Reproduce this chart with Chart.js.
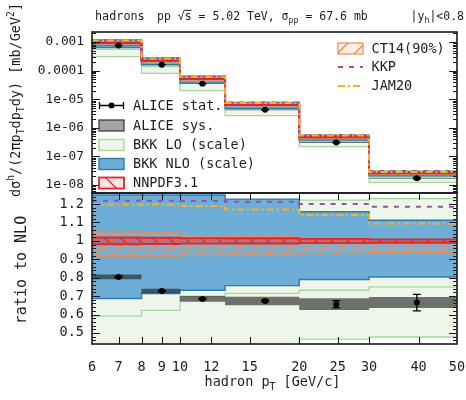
<!DOCTYPE html>
<html>
<head>
<meta charset="utf-8">
<script src="https://cdn.jsdelivr.net/npm/chart.js@4.4.1/dist/chart.umd.min.js"></script>
<style>
  html, body { margin: 0; padding: 0; background: #fff; }
  #wrap { position: relative; width: 466px; height: 400px; overflow: hidden; background: #fff; }
  canvas { position: absolute; left: 0; }
  #cRatio { top: 181px; }
  #cSpec { top: 0; }
</style>
</head>
<body>
<div id="wrap">
  <canvas id="cRatio" width="466" height="219"></canvas>
  <canvas id="cSpec" width="466" height="205"></canvas>
</div>
<script>
// ---- binning and axis ticks ----
const binEdges = [6, 8, 10, 13, 20, 30, 50];
const pointPt = [7, 9, 11.4, 16.4, 24.8, 39.6];
const xTicks = [6, 7, 8, 9, 10, 12, 15, 20, 25, 30, 40, 50];
const xTickLabels = ['6', '7', '8', '9', '10', '12', '15', '20', '25', '30', '40', '50'];
const specTicks = [1e-8, 1e-7, 1e-6, 1e-5, 1e-4, 1e-3];
const specTickLabels = ['1e-08', '1e-07', '1e-06', '1e-05', '0.0001', '0.001'];
const ratioTicks = [0.5, 0.6, 0.7, 0.8, 0.9, 1.0, 1.1, 1.2];
const ratioTickLabels = ['0.5', '0.6', '0.7', '0.8', '0.9', '1', '1.1', '1.2'];

// ---- BKK NLO central cross section per bin [mb/GeV^2] ----
const nloCentral = [9.4e-4, 2.22e-4, 5.1e-5, 6.3e-6, 4.7e-7, 2.6e-8];

// ---- everything below is a ratio to the NLO central value, per bin ----
const aliceRatio = [0.804, 0.728, 0.685, 0.674, 0.656, 0.665];
const aliceStat  = [0.004, 0.003, 0.004, 0.005, 0.020, 0.045];
const aliceSys   = [0.013, 0.012, 0.016, 0.023, 0.032, 0.030];
const loLow   = [0.33, 0.36, 0.39, 0.42, 0.466, 0.478];
const loCent  = [0.591, 0.623, 0.700, 0.715, 0.732, 0.750];
const loHigh  = [1.24, 1.23, 1.22, 1.20, 1.221, 1.230];
const nloLow  = [0.687, 0.714, 0.732, 0.757, 0.790, 0.804];
const nloHigh = [1.249, 1.249, 1.249, 1.227, 1.158, 1.112];
const nnLow   = [0.982, 0.983, 0.985, 0.986, 0.988, 0.990];
const nnHigh  = [1.018, 1.017, 1.015, 1.014, 1.011, 1.008];
const ctLow   = [0.917, 0.918, 0.921, 0.922, 0.931, 0.937];
const ctHigh  = [1.043, 1.043, 1.027, 1.022, 1.005, 0.990];
const kkp     = [1.218, 1.218, 1.217, 1.212, 1.200, 1.185];
const jam20   = [1.198, 1.198, 1.190, 1.170, 1.140, 1.095];

const FONT = '"DejaVu Sans Mono", monospace';
const INK = '#1e1e1e';
const C = {
  loFill: '#edf6e9', loLine: '#a6d89e',
  nloFill: '#6eadd5', nloLine: '#2b7bb8',
  nn: '#e2262b', ct: '#f08a4e', kkp: '#9a4fad', jam: '#f2b326',
  sys: 'rgba(30,30,30,0.62)', sysKey: '#a4a4a4'
};

function hatchPattern(lineColor, bg, size, lw, dir) {
  const c = document.createElement('canvas');
  c.width = size; c.height = size;
  const g = c.getContext('2d');
  if (bg) { g.fillStyle = bg; g.fillRect(0, 0, size, size); }
  g.strokeStyle = lineColor; g.lineWidth = lw; g.beginPath();
  if (dir === '/') {
    g.moveTo(0, size); g.lineTo(size, 0);
    g.moveTo(-1, 1); g.lineTo(1, -1);
    g.moveTo(size - 1, size + 1); g.lineTo(size + 1, size - 1);
  } else {
    g.moveTo(0, 0); g.lineTo(size, size);
    g.moveTo(-1, size - 1); g.lineTo(1, size + 1);
    g.moveTo(size - 1, -1); g.lineTo(size + 1, 1);
  }
  g.stroke();
  return g.createPattern(c, 'repeat');
}
const ctPattern = hatchPattern(C.ct, 'rgba(250,170,120,0.2)', 17, 1.4, '/');
const nnPattern = hatchPattern(C.nn, 'rgba(226,38,43,0.45)', 16, 1.3, '\\');
const nnKeyPattern = hatchPattern(C.nn, 'rgba(226,38,43,0.12)', 24, 1.3, '\\');

// histogram-style points: one value per bin, repeated at the last edge
function steps(vals) {
  return binEdges.map((x, i) => ({ x, y: vals[Math.min(i, vals.length - 1)] }));
}

function makeDatasets(toPanel) {
  const conv = arr => arr.map((r, i) => toPanel(r, i));
  const ds = [];
  const line = (vals, color, width, order, extra) => Object.assign({
    data: steps(conv(vals)), stepped: 'before', borderColor: color, borderWidth: width,
    pointRadius: 0, fill: false, order: order
  }, extra || {});
  const band = (lo, hi, color, width, bg, order, label) => {
    ds.push(line(hi, color, width, order + 0.5, { fill: ds.length + 1, backgroundColor: bg, label: label }));
    ds.push(line(lo, color, width, order));
  };
  ds.push({
    label: 'ALICE stat.',
    data: pointPt.map((x, i) => ({ x, y: toPanel(aliceRatio[i], i) })),
    showLine: false, pointRadius: 3, pointBackgroundColor: '#000', pointBorderWidth: 0, order: 0
  });
  band(aliceRatio.map((r, i) => r - aliceSys[i]), aliceRatio.map((r, i) => r + aliceSys[i]),
       'rgba(0,0,0,0)', 0, C.sys, 1, 'ALICE sys.');
  ds.push(line(jam20, C.jam, 2, 2, { label: 'JAM20', borderDash: [7, 3, 2, 3] }));
  ds.push(line(kkp, C.kkp, 2, 3, { label: 'KKP', borderDash: [5, 6] }));
  band(nnLow, nnHigh, C.nn, 1.9, nnPattern, 4, 'NNPDF3.1');
  band(ctLow, ctHigh, C.ct, 1.3, ctPattern, 5, 'CT14(90%)');
  band(nloLow, nloHigh, C.nloLine, 1.4, C.nloFill, 6, 'BKK NLO (scale)');
  ds.push(line(loCent, C.loLine, 1.3, 7));
  band(loLow, loHigh, C.loLine, 1.3, C.loFill, 8, 'BKK LO (scale)');
  return ds;
}

// ---- text helpers (sub/superscripts) ----
function richWidth(ctx, parts, fs) {
  let w = 0;
  for (const p of parts) {
    ctx.font = ((p.sub || p.sup) ? fs * 0.72 : fs) + 'px ' + FONT;
    w += ctx.measureText(p.t).width;
  }
  return w;
}
function drawRich(ctx, parts, x, y, fs, align) {
  const w = richWidth(ctx, parts, fs);
  let cx = align === 'center' ? x - w / 2 : align === 'right' ? x - w : x;
  ctx.textBaseline = 'alphabetic'; ctx.textAlign = 'left'; ctx.fillStyle = INK;
  for (const p of parts) {
    ctx.font = ((p.sub || p.sup) ? fs * 0.72 : fs) + 'px ' + FONT;
    const dy = p.sub ? fs * 0.28 : p.sup ? -fs * 0.42 : 0;
    ctx.fillText(p.t, cx, y + dy);
    const tw = ctx.measureText(p.t).width;
    if (p.over) {
      ctx.strokeStyle = INK; ctx.lineWidth = 1;
      ctx.beginPath(); ctx.moveTo(cx - 0.5, y - fs * 0.8); ctx.lineTo(cx + tw, y - fs * 0.8); ctx.stroke();
    }
    cx += tw;
  }
}
function drawRotated(ctx, parts, x, y, fs) {
  ctx.save(); ctx.translate(x, y); ctx.rotate(-Math.PI / 2);
  drawRich(ctx, parts, 0, fs * 0.36, fs, 'center');
  ctx.restore();
}

// ---- frame, ticks, error bars and annotations ----
const decor = {
  id: 'decor',
  afterDatasetsDraw(chart, args, opts) {
    const ctx = chart.ctx, xs = chart.scales.x, ys = chart.scales.y;
    ctx.save();
    ctx.strokeStyle = '#000'; ctx.lineWidth = 1.3;
    pointPt.forEach((pt, i) => {
      const x = xs.getPixelForValue(pt);
      const y1 = ys.getPixelForValue(opts.toPanel(aliceRatio[i] - aliceStat[i], i));
      const y2 = ys.getPixelForValue(opts.toPanel(aliceRatio[i] + aliceStat[i], i));
      ctx.beginPath();
      ctx.moveTo(x, y1); ctx.lineTo(x, y2);
      ctx.moveTo(x - 4, y1); ctx.lineTo(x + 4, y1);
      ctx.moveTo(x - 4, y2); ctx.lineTo(x + 4, y2);
      ctx.stroke();
    });
    ctx.restore();
  },
  afterDraw(chart, args, opts) {
    const ctx = chart.ctx, a = chart.chartArea, xs = chart.scales.x, ys = chart.scales.y;
    ctx.save();
    // y ticks, inside on both sides
    ctx.strokeStyle = '#1a1a1a'; ctx.lineWidth = 1;
    ctx.beginPath();
    const yTick = (v, len) => {
      const y = Math.round(ys.getPixelForValue(v)) + 0.5;
      if (y < a.top + 1 || y > a.bottom - 1) return;
      ctx.moveTo(a.left, y); ctx.lineTo(a.left + len, y);
      ctx.moveTo(a.right, y); ctx.lineTo(a.right - len, y);
    };
    if (opts.kind === 'spec') {
      specTicks.forEach(v => yTick(v, 8));
      for (let e = -9; e <= -3; e++) for (let m = 2; m <= 9; m++) yTick(m * Math.pow(10, e), 4);
    } else {
      ratioTicks.forEach(v => yTick(v, 8));
      for (let k = Math.ceil(ys.min / 0.02); k * 0.02 <= ys.max; k++) if (k % 5) yTick(k * 0.02, 4);
      xTicks.forEach(v => {
        const x = Math.round(xs.getPixelForValue(v)) + 0.5;
        if (x < a.left + 1 || x > a.right - 1) return;
        ctx.moveTo(x, a.bottom); ctx.lineTo(x, a.bottom - 7);
        ctx.moveTo(x, a.top); ctx.lineTo(x, a.top + 7);
      });
    }
    ctx.stroke();
    // frame
    ctx.lineWidth = 1.6; ctx.strokeStyle = '#1a1a1a';
    ctx.strokeRect(a.left, a.top, a.right - a.left, a.bottom - a.top);

    const off = opts.yOff;
    if (opts.kind === 'spec') {
      // title line
      drawRich(ctx, [{ t: 'hadrons' }], 95, 19.5, 11.8);
      drawRich(ctx, [{ t: 'pp ' }, { t: '\u221A' }, { t: 's', over: true }, { t: ' = 5.02 TeV, ' },
                     { t: '\u03C3' }, { t: 'pp', sub: true }, { t: ' = 67.6 mb' }], 157, 19.5, 11.5);
      drawRich(ctx, [{ t: '|y' }, { t: 'h', sub: true }, { t: '|<0.8' }], 464, 19.5, 11.5, 'right');
      // y title
      drawRotated(ctx, [{ t: 'd\u03C3' }, { t: 'h', sup: true }, { t: '/(2\u03C0p' }, { t: 'T', sub: true },
                        { t: 'dp' }, { t: 'T', sub: true }, { t: 'dy) [mb/GeV' }, { t: '2', sup: true }, { t: ']' }],
                  15, 100, 13.5);
      // left legend
      const fs = 13.5;
      function swatch(x, y, fill, stroke, lw) {
        ctx.fillStyle = fill; ctx.fillRect(x, y - 5.5, 25, 11);
        ctx.strokeStyle = stroke; ctx.lineWidth = lw; ctx.strokeRect(x, y - 5.5, 25, 11);
      }
      const rows = [
        ['ALICE stat.', 105.5, (y) => {
          ctx.strokeStyle = '#000'; ctx.lineWidth = 1.3; ctx.beginPath();
          ctx.moveTo(99, y); ctx.lineTo(124, y);
          ctx.moveTo(99.5, y - 3.5); ctx.lineTo(99.5, y + 3.5);
          ctx.moveTo(123.5, y - 3.5); ctx.lineTo(123.5, y + 3.5); ctx.stroke();
          ctx.fillStyle = '#000'; ctx.beginPath(); ctx.arc(111.5, y, 3, 0, 2 * Math.PI); ctx.fill();
        }],
        ['ALICE sys.', 125.5, (y) => swatch(99, y, C.sysKey, '#333', 1.2)],
        ['BKK LO (scale)', 145, (y) => swatch(99, y, C.loFill, C.loLine, 1.4)],
        ['BKK NLO (scale)', 164, (y) => swatch(99, y, C.nloFill, C.nloLine, 1.4)],
        ['NNPDF3.1', 183, (y) => swatch(99, y, nnKeyPattern, C.nn, 1.8)]
      ];
      rows.forEach(([label, y, sym]) => {
        sym(y);
        ctx.font = fs + 'px ' + FONT; ctx.fillStyle = INK; ctx.textAlign = 'left'; ctx.textBaseline = 'middle';
        ctx.fillText(label, 133, y + 0.5);
      });
      // right legend
      swatch(338, 48.5, ctPattern, C.ct, 1.2);
      ctx.lineWidth = 2;
      ctx.strokeStyle = C.kkp; ctx.setLineDash([5, 6]);
      ctx.beginPath(); ctx.moveTo(338, 67); ctx.lineTo(363, 67); ctx.stroke();
      ctx.strokeStyle = C.jam; ctx.setLineDash([7, 3, 2, 3]);
      ctx.beginPath(); ctx.moveTo(338, 86); ctx.lineTo(363, 86); ctx.stroke();
      ctx.setLineDash([]);
      ctx.font = fs + 'px ' + FONT; ctx.fillStyle = INK; ctx.textAlign = 'left'; ctx.textBaseline = 'middle';
      ctx.fillText('CT14(90%)', 371.5, 49);
      ctx.fillText('KKP', 371.5, 67.5);
      ctx.fillText('JAM20', 371.5, 86.5);
    } else {
      drawRotated(ctx, [{ t: 'ratio to NLO' }], 21, 270 - off, 15);
      drawRich(ctx, [{ t: 'hadron p' }, { t: 'T', sub: true }, { t: ' [GeV/c]' }],
               (a.left + a.right) / 2 - 2, 386 - off, 13.5, 'center');
    }
    ctx.restore();
  }
};

function common() {
  return {
    responsive: false, animation: false, events: [],
    elements: { line: { tension: 0 } },
    plugins: { legend: { display: false }, tooltip: { enabled: false } }
  };
}
const hiddenGrid = { color: 'rgba(0,0,0,0)', drawOnChartArea: false, drawTicks: true, tickLength: 8 };
const tickFont = { family: FONT, size: 13.5 };

// ---- upper panel: cross section ----
const toSpec = (r, i) => r * nloCentral[i];
new Chart(document.getElementById('cSpec'), {
  type: 'line',
  data: { datasets: makeDatasets(toSpec) },
  options: Object.assign(common(), {
    layout: { padding: { left: 0, right: 9, top: 32, bottom: 12 } },
    scales: {
      x: { type: 'logarithmic', min: 6, max: 50, display: false },
      y: {
        type: 'logarithmic', min: 5.25e-9, max: 2.24e-3, bounds: 'data',
        grid: hiddenGrid, border: { display: false },
        afterBuildTicks: s => { s.ticks = specTicks.map(v => ({ value: v })); },
        afterFit: s => { s.width = 92; },
        ticks: { padding: 0, color: INK, font: { family: FONT, size: 12.8 }, autoSkip: false,
                 callback: (v, i) => specTickLabels[i] }
      }
    },
    plugins: Object.assign(common().plugins, { decor: { kind: 'spec', toPanel: toSpec, yOff: 0 } })
  }),
  plugins: [decor]
});

// ---- lower panel: ratio to NLO ----
const toRatio = (r) => r;
new Chart(document.getElementById('cRatio'), {
  type: 'line',
  data: { datasets: makeDatasets(toRatio) },
  options: Object.assign(common(), {
    layout: { padding: { left: 0, right: 9, top: 12, bottom: 0 } },
    scales: {
      x: {
        type: 'logarithmic', min: 6, max: 50, bounds: 'data',
        grid: Object.assign({}, hiddenGrid, { tickLength: 15 }), border: { display: false },
        afterBuildTicks: s => { s.ticks = xTicks.map(v => ({ value: v })); },
        afterFit: s => { s.height = 56; },
        ticks: { padding: 0, color: INK, font: tickFont, autoSkip: false, maxRotation: 0, minRotation: 0,
                 callback: (v, i) => xTickLabels[i] }
      },
      y: {
        type: 'linear', min: 0.44, max: 1.26, bounds: 'data',
        grid: hiddenGrid, border: { display: false },
        afterBuildTicks: s => { s.ticks = ratioTicks.map(v => ({ value: v })); },
        afterFit: s => { s.width = 92; },
        ticks: { padding: 0, color: INK, font: tickFont, autoSkip: false,
                 callback: (v, i) => ratioTickLabels[i] }
      }
    },
    plugins: Object.assign(common().plugins, { decor: { kind: 'ratio', toPanel: toRatio, yOff: 181 } })
  }),
  plugins: [decor]
});
</script>
</body>
</html>
